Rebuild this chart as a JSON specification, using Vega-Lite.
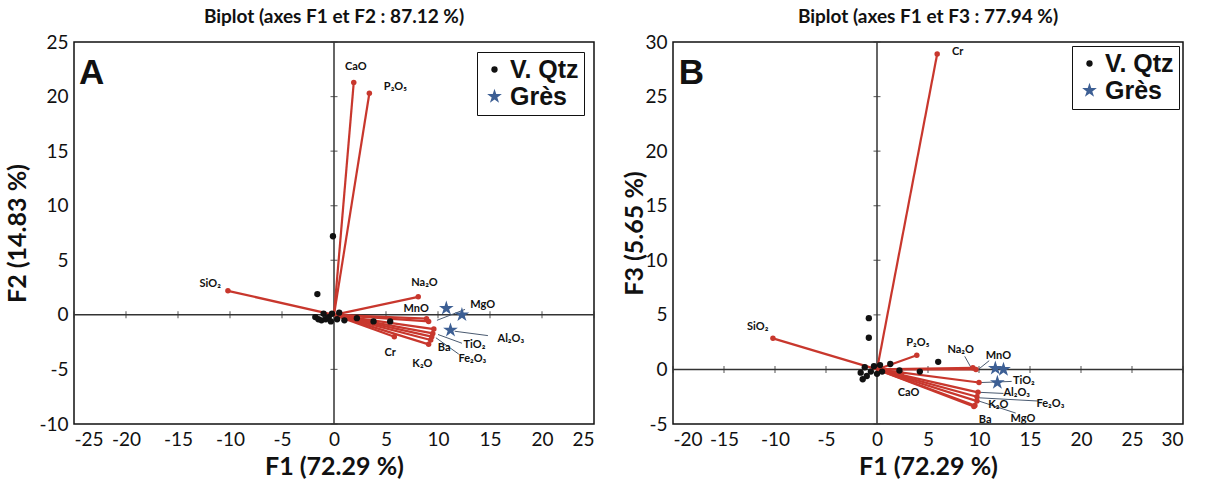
{
  "$schema": "https://vega.github.io/schema/vega-lite/v6.json",
  "background": "white",
  "padding": {"left": 5, "top": 7, "right": 2, "bottom": 0},
  "config": {
    "font": "Lato",
    "view": {"stroke": "#111111", "strokeWidth": 1.5},
    "axis": {
      "grid": false, "domain": false, "ticks": false,
      "labelFont": "Lato", "labelFontSize": 19, "labelColor": "#111111", "labelPadding": 6,
      "labelExpr": "replace(datum.label, '\u2212', '-')",
      "titleFont": "Lato", "titleFontSize": 25, "titleFontWeight": "bold", "titleColor": "#111111", "titlePadding": 5
    },
    "legend": {
      "title": null, "strokeColor": "#111111", "fillColor": "white", "padding": 5, "rowPadding": 1, "labelOffset": 3,
      "labelFont": "Liberation Sans", "labelFontSize": 25, "labelFontWeight": "bold", "labelColor": "#111111"
    },
    "title": {"font": "Lato", "fontSize": 19, "fontWeight": "bold", "color": "#111111", "offset": 6},
    "concat": {"spacing": 26}
  },
  "datasets": {
    "origin": [{"o": 0}],
    "vecA": [
      {"v": "CaO", "x0": 0, "y0": 0, "f1": 1.9, "f2": 21.3, "lx": 2.1, "ly": 22.7},
      {"v": "P₂O₅", "x0": 0, "y0": 0, "f1": 3.4, "f2": 20.3, "lx": 5.9, "ly": 20.9},
      {"v": "SiO₂", "x0": 0, "y0": 0, "f1": -10.2, "f2": 2.2, "lx": -11.9, "ly": 2.8},
      {"v": "Na₂O", "x0": 0, "y0": 0, "f1": 8.1, "f2": 1.65, "lx": 8.7, "ly": 2.9},
      {"v": "MnO", "x0": 0, "y0": 0, "f1": 8.9, "f2": -0.35, "lx": 7.9, "ly": 0.5},
      {"v": "MgO", "x0": 0, "y0": 0, "f1": 9.1, "f2": -0.6, "lx": 14.3, "ly": 0.9},
      {"v": "Al₂O₃", "x0": 0, "y0": 0, "f1": 9.6, "f2": -1.3, "lx": 17.0, "ly": -2.2},
      {"v": "TiO₂", "x0": 0, "y0": 0, "f1": 9.5, "f2": -1.7, "lx": 13.5, "ly": -2.8},
      {"v": "Fe₂O₃", "x0": 0, "y0": 0, "f1": 9.4, "f2": -2.0, "lx": 13.3, "ly": -4.0},
      {"v": "Ba", "x0": 0, "y0": 0, "f1": 9.3, "f2": -2.3, "lx": 10.6, "ly": -3.0},
      {"v": "K₂O", "x0": 0, "y0": 0, "f1": 9.1, "f2": -2.7, "lx": 8.5, "ly": -4.5},
      {"v": "Cr", "x0": 0, "y0": 0, "f1": 5.8, "f2": -2.0, "lx": 5.4, "ly": -3.5}
    ],
    "leadA": [
      {"x1": 11.6, "y1": -1.5, "x2": 14.8, "y2": -1.9},
      {"x1": 10.0, "y1": -1.8, "x2": 12.3, "y2": -2.6},
      {"x1": 9.8, "y1": -2.1, "x2": 12.0, "y2": -3.6},
      {"x1": 9.9, "y1": -0.5, "x2": 12.6, "y2": 0.5}
    ],
    "ptsA": [
      {"f1": -0.1, "f2": 7.2, "t": "V. Qtz"},
      {"f1": -1.6, "f2": 1.9, "t": "V. Qtz"},
      {"f1": -1.8, "f2": -0.2, "t": "V. Qtz"},
      {"f1": -1.5, "f2": -0.4, "t": "V. Qtz"},
      {"f1": -1.2, "f2": -0.5, "t": "V. Qtz"},
      {"f1": -1.0, "f2": 0.1, "t": "V. Qtz"},
      {"f1": -0.8, "f2": -0.4, "t": "V. Qtz"},
      {"f1": -0.5, "f2": -0.2, "t": "V. Qtz"},
      {"f1": -0.3, "f2": -0.6, "t": "V. Qtz"},
      {"f1": -0.2, "f2": 0.1, "t": "V. Qtz"},
      {"f1": 0.3, "f2": -0.4, "t": "V. Qtz"},
      {"f1": 0.5, "f2": 0.2, "t": "V. Qtz"},
      {"f1": 1.0, "f2": -0.5, "t": "V. Qtz"},
      {"f1": 2.2, "f2": -0.3, "t": "V. Qtz"},
      {"f1": 3.8, "f2": -0.6, "t": "V. Qtz"},
      {"f1": 5.4, "f2": -0.6, "t": "V. Qtz"},
      {"f1": 10.8, "f2": 0.6, "t": "Grès"},
      {"f1": 12.3, "f2": 0.0, "t": "Grès"},
      {"f1": 11.2, "f2": -1.4, "t": "Grès"}
    ],
    "vecB": [
      {"v": "Cr", "x0": 0, "y0": 0, "f1": 5.9, "f3": 28.9, "lx": 7.9, "ly": 29.1},
      {"v": "SiO₂", "x0": 0, "y0": 0, "f1": -10.2, "f3": 2.85, "lx": -11.7, "ly": 3.9},
      {"v": "P₂O₅", "x0": 0, "y0": 0, "f1": 3.9, "f3": 1.3, "lx": 4.0, "ly": 2.4},
      {"v": "Na₂O", "x0": 0, "y0": 0, "f1": 9.4, "f3": 0.15, "lx": 8.2, "ly": 1.8},
      {"v": "MnO", "x0": 0, "y0": 0, "f1": 9.7, "f3": 0.0, "lx": 11.9, "ly": 1.2},
      {"v": "TiO₂", "x0": 0, "y0": 0, "f1": 10.0, "f3": -1.2, "lx": 14.4, "ly": -1.1},
      {"v": "Al₂O₃", "x0": 0, "y0": 0, "f1": 9.9, "f3": -2.1, "lx": 13.7, "ly": -2.2},
      {"v": "Fe₂O₃", "x0": 0, "y0": 0, "f1": 9.8, "f3": -2.5, "lx": 17.0, "ly": -3.2},
      {"v": "MgO", "x0": 0, "y0": 0, "f1": 9.8, "f3": -2.9, "lx": 14.3, "ly": -4.5},
      {"v": "K₂O", "x0": 0, "y0": 0, "f1": 9.6, "f3": -3.3, "lx": 11.9, "ly": -3.3},
      {"v": "Ba", "x0": 0, "y0": 0, "f1": 9.5, "f3": -3.4, "lx": 10.6, "ly": -4.6},
      {"v": "CaO", "x0": 0, "y0": 0, "f1": 2.4, "f3": -0.4, "lx": 3.1, "ly": -2.2}
    ],
    "leadB": [
      {"x1": 8.6, "y1": 1.2, "x2": 9.2, "y2": 0.2},
      {"x1": 11.0, "y1": 0.8, "x2": 10.0, "y2": 0.05},
      {"x1": 13.2, "y1": -1.1, "x2": 10.2, "y2": -1.2},
      {"x1": 12.4, "y1": -2.2, "x2": 10.1, "y2": -2.1},
      {"x1": 15.9, "y1": -2.9, "x2": 10.0, "y2": -2.6},
      {"x1": 13.6, "y1": -4.0, "x2": 10.0, "y2": -2.9}
    ],
    "ptsB": [
      {"f1": -0.8, "f3": 4.7, "t": "V. Qtz"},
      {"f1": -0.8, "f3": 2.9, "t": "V. Qtz"},
      {"f1": -1.6, "f3": -0.3, "t": "V. Qtz"},
      {"f1": -1.4, "f3": -0.9, "t": "V. Qtz"},
      {"f1": -1.2, "f3": 0.2, "t": "V. Qtz"},
      {"f1": -1.0, "f3": -0.6, "t": "V. Qtz"},
      {"f1": -0.6, "f3": -0.2, "t": "V. Qtz"},
      {"f1": -0.3, "f3": 0.3, "t": "V. Qtz"},
      {"f1": 0.0, "f3": -0.4, "t": "V. Qtz"},
      {"f1": 0.3, "f3": 0.4, "t": "V. Qtz"},
      {"f1": 0.5, "f3": -0.2, "t": "V. Qtz"},
      {"f1": 1.3, "f3": 0.5, "t": "V. Qtz"},
      {"f1": 2.2, "f3": -0.1, "t": "V. Qtz"},
      {"f1": 4.2, "f3": -0.2, "t": "V. Qtz"},
      {"f1": 6.0, "f3": 0.7, "t": "V. Qtz"},
      {"f1": 11.6, "f3": 0.1, "t": "Grès"},
      {"f1": 12.4, "f3": 0.0, "t": "Grès"},
      {"f1": 11.8, "f3": -1.2, "t": "Grès"}
    ],
    "ticksA_x": [{"v": -25, "z": 0}, {"v": -20, "z": 0}, {"v": -15, "z": 0}, {"v": -10, "z": 0}, {"v": -5, "z": 0}, {"v": 5, "z": 0}, {"v": 10, "z": 0}, {"v": 15, "z": 0}, {"v": 20, "z": 0}, {"v": 25, "z": 0}],
    "ticksA_y": [{"v": -10, "z": 0}, {"v": -5, "z": 0}, {"v": 5, "z": 0}, {"v": 10, "z": 0}, {"v": 15, "z": 0}, {"v": 20, "z": 0}, {"v": 25, "z": 0}],
    "ticksB_x": [{"v": -20, "z": 0}, {"v": -15, "z": 0}, {"v": -10, "z": 0}, {"v": -5, "z": 0}, {"v": 5, "z": 0}, {"v": 10, "z": 0}, {"v": 15, "z": 0}, {"v": 20, "z": 0}, {"v": 25, "z": 0}, {"v": 30, "z": 0}],
    "ticksB_y": [{"v": -5, "z": 0}, {"v": 5, "z": 0}, {"v": 10, "z": 0}, {"v": 15, "z": 0}, {"v": 20, "z": 0}, {"v": 25, "z": 0}, {"v": 30, "z": 0}],
    "tagA": [{"tag": "A", "x": -23.3, "y": 22.2}],
    "tagB": [{"tag": "B", "x": -18.2, "y": 27.2}]
  },
  "hconcat": [
    {
      "title": "Biplot (axes F1 et F2 : 87.12 %)",
      "width": 520,
      "height": 382,
      "layer": [
        {
          "data": {"name": "origin"},
          "mark": {"type": "rule", "color": "#333333", "strokeWidth": 1.5},
          "encoding": {
            "y": {"field": "o", "type": "quantitative", "scale": {"domain": [-10, 25], "nice": false, "zero": false},
                  "axis": {"title": "F2 (14.83 %)", "values": [-10, -5, 0, 5, 10, 15, 20, 25], "titlePadding": 8}}
          }
        },
        {
          "data": {"name": "origin"},
          "mark": {"type": "rule", "color": "#333333", "strokeWidth": 1.5},
          "encoding": {
            "x": {"field": "o", "type": "quantitative", "scale": {"domain": [-25, 25], "nice": false, "zero": false},
                  "axis": {"title": "F1 (72.29 %)", "values": [-25, -20, -15, -10, -5, 0, 5, 10, 15, 20, 25]}}
          }
        },
        {
          "data": {"name": "ticksA_x"},
          "mark": {"type": "tick", "orient": "vertical", "color": "#333333", "size": 7, "thickness": 1.2},
          "encoding": {"x": {"field": "v", "type": "quantitative"}, "y": {"field": "z", "type": "quantitative"}}
        },
        {
          "data": {"name": "ticksA_y"},
          "mark": {"type": "tick", "orient": "horizontal", "color": "#333333", "size": 7, "thickness": 1.2},
          "encoding": {"y": {"field": "v", "type": "quantitative"}, "x": {"field": "z", "type": "quantitative"}}
        },
        {
          "data": {"name": "leadA"},
          "mark": {"type": "rule", "color": "#4a5a70", "strokeWidth": 1},
          "encoding": {
            "x": {"field": "x1", "type": "quantitative"}, "y": {"field": "y1", "type": "quantitative"},
            "x2": {"field": "x2"}, "y2": {"field": "y2"}
          }
        },
        {
          "data": {"name": "vecA"},
          "mark": {"type": "rule", "color": "#c8372d", "strokeWidth": 2.2},
          "encoding": {
            "x": {"field": "x0", "type": "quantitative"}, "y": {"field": "y0", "type": "quantitative"},
            "x2": {"field": "f1"}, "y2": {"field": "f2"}
          }
        },
        {
          "data": {"name": "vecA"},
          "mark": {"type": "point", "filled": true, "color": "#c8372d", "size": 30, "opacity": 1},
          "encoding": {"x": {"field": "f1", "type": "quantitative"}, "y": {"field": "f2", "type": "quantitative"}}
        },
        {
          "data": {"name": "ptsA"},
          "mark": {"type": "point", "filled": true, "opacity": 1, "strokeWidth": 1},
          "encoding": {
            "x": {"field": "f1", "type": "quantitative"},
            "y": {"field": "f2", "type": "quantitative"},
            "color": {"field": "t", "type": "nominal", "scale": {"domain": ["V. Qtz", "Grès"], "range": ["#111111", "#3d5f94"]},
                      "legend": {"orient": "top-right", "offset": 10, "labelExpr": "datum.label + '\u00a0\u00a0\u00a0\u00a0'"}},
            "shape": {"field": "t", "type": "nominal", "scale": {"domain": ["V. Qtz", "Grès"], "range": ["circle", "M0,-1L0.2245,-0.309L0.9511,-0.309L0.3633,0.118L0.5878,0.809L0,0.382L-0.5878,0.809L-0.3633,0.118L-0.9511,-0.309L-0.2245,-0.309Z"]},
                      "legend": {"orient": "top-right", "offset": 10, "labelExpr": "datum.label + '\u00a0\u00a0\u00a0\u00a0'"}},
            "size": {"field": "t", "type": "nominal", "scale": {"domain": ["V. Qtz", "Grès"], "range": [40, 240]},
                     "legend": {"orient": "top-right", "offset": 10, "labelExpr": "datum.label + '\u00a0\u00a0\u00a0\u00a0'"}}
          }
        },
        {
          "data": {"name": "vecA"},
          "mark": {"type": "text", "font": "Lato", "fontSize": 11, "fontWeight": "bold", "color": "#111111"},
          "encoding": {"x": {"field": "lx", "type": "quantitative"}, "y": {"field": "ly", "type": "quantitative"}, "text": {"field": "v"}}
        },
        {
          "data": {"name": "tagA"},
          "mark": {"type": "text", "font": "Liberation Sans", "fontSize": 35, "fontWeight": "bold", "color": "#111111"},
          "encoding": {"x": {"field": "x", "type": "quantitative"}, "y": {"field": "y", "type": "quantitative"}, "text": {"field": "tag"}}
        }
      ]
    },
    {
      "title": "Biplot (axes F1 et F3 : 77.94 %)",
      "width": 510,
      "height": 382,
      "layer": [
        {
          "data": {"name": "origin"},
          "mark": {"type": "rule", "color": "#333333", "strokeWidth": 1.5},
          "encoding": {
            "y": {"field": "o", "type": "quantitative", "scale": {"domain": [-5, 30], "nice": false, "zero": false},
                  "axis": {"title": "F3 (5.65 %)", "values": [-5, 0, 5, 10, 15, 20, 25, 30], "titlePadding": -3}}
          }
        },
        {
          "data": {"name": "origin"},
          "mark": {"type": "rule", "color": "#333333", "strokeWidth": 1.5},
          "encoding": {
            "x": {"field": "o", "type": "quantitative", "scale": {"domain": [-20, 30], "nice": false, "zero": false},
                  "axis": {"title": "F1 (72.29 %)", "values": [-20, -15, -10, -5, 0, 5, 10, 15, 20, 25, 30]}}
          }
        },
        {
          "data": {"name": "ticksB_x"},
          "mark": {"type": "tick", "orient": "vertical", "color": "#333333", "size": 7, "thickness": 1.2},
          "encoding": {"x": {"field": "v", "type": "quantitative"}, "y": {"field": "z", "type": "quantitative"}}
        },
        {
          "data": {"name": "ticksB_y"},
          "mark": {"type": "tick", "orient": "horizontal", "color": "#333333", "size": 7, "thickness": 1.2},
          "encoding": {"y": {"field": "v", "type": "quantitative"}, "x": {"field": "z", "type": "quantitative"}}
        },
        {
          "data": {"name": "leadB"},
          "mark": {"type": "rule", "color": "#4a5a70", "strokeWidth": 1},
          "encoding": {
            "x": {"field": "x1", "type": "quantitative"}, "y": {"field": "y1", "type": "quantitative"},
            "x2": {"field": "x2"}, "y2": {"field": "y2"}
          }
        },
        {
          "data": {"name": "vecB"},
          "mark": {"type": "rule", "color": "#c8372d", "strokeWidth": 2.2},
          "encoding": {
            "x": {"field": "x0", "type": "quantitative"}, "y": {"field": "y0", "type": "quantitative"},
            "x2": {"field": "f1"}, "y2": {"field": "f3"}
          }
        },
        {
          "data": {"name": "vecB"},
          "mark": {"type": "point", "filled": true, "color": "#c8372d", "size": 30, "opacity": 1},
          "encoding": {"x": {"field": "f1", "type": "quantitative"}, "y": {"field": "f3", "type": "quantitative"}}
        },
        {
          "data": {"name": "ptsB"},
          "mark": {"type": "point", "filled": true, "opacity": 1, "strokeWidth": 1},
          "encoding": {
            "x": {"field": "f1", "type": "quantitative"},
            "y": {"field": "f3", "type": "quantitative"},
            "color": {"field": "t", "type": "nominal", "scale": {"domain": ["V. Qtz", "Grès"], "range": ["#111111", "#3d5f94"]},
                      "legend": {"orient": "top-right", "offset": 4, "labelExpr": "datum.label + '\u00a0\u00a0\u00a0'"}},
            "shape": {"field": "t", "type": "nominal", "scale": {"domain": ["V. Qtz", "Grès"], "range": ["circle", "M0,-1L0.2245,-0.309L0.9511,-0.309L0.3633,0.118L0.5878,0.809L0,0.382L-0.5878,0.809L-0.3633,0.118L-0.9511,-0.309L-0.2245,-0.309Z"]},
                      "legend": {"orient": "top-right", "offset": 4, "labelExpr": "datum.label + '\u00a0\u00a0\u00a0'"}},
            "size": {"field": "t", "type": "nominal", "scale": {"domain": ["V. Qtz", "Grès"], "range": [40, 240]},
                     "legend": {"orient": "top-right", "offset": 4, "labelExpr": "datum.label + '\u00a0\u00a0\u00a0'"}}
          }
        },
        {
          "data": {"name": "vecB"},
          "mark": {"type": "text", "font": "Lato", "fontSize": 11, "fontWeight": "bold", "color": "#111111"},
          "encoding": {"x": {"field": "lx", "type": "quantitative"}, "y": {"field": "ly", "type": "quantitative"}, "text": {"field": "v"}}
        },
        {
          "data": {"name": "tagB"},
          "mark": {"type": "text", "font": "Liberation Sans", "fontSize": 35, "fontWeight": "bold", "color": "#111111"},
          "encoding": {"x": {"field": "x", "type": "quantitative"}, "y": {"field": "y", "type": "quantitative"}, "text": {"field": "tag"}}
        }
      ]
    }
  ],
  "resolve": {
    "scale": {"x": "independent", "y": "independent", "color": "independent", "shape": "independent", "size": "independent"},
    "legend": {"color": "independent", "shape": "independent", "size": "independent"}
  }
}
